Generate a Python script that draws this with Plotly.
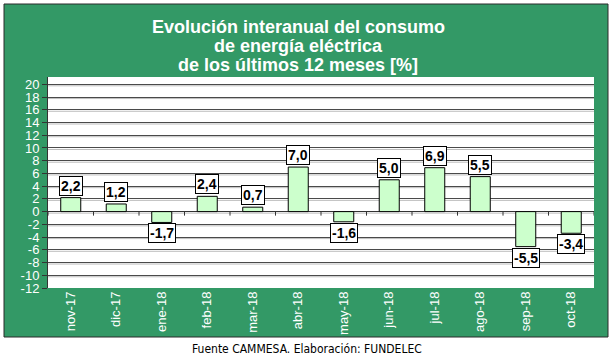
import plotly.graph_objects as go

categories = ["nov-17", "dic-17", "ene-18", "feb-18", "mar-18", "abr-18",
              "may-18", "jun-18", "jul-18", "ago-18", "sep-18", "oct-18"]
values = [2.2, 1.2, -1.7, 2.4, 0.7, 7.0, -1.6, 5.0, 6.9, 5.5, -5.5, -3.4]
y_ticks = list(range(-12, 21, 2))
title_lines = ["Evolución interanual del consumo",
               "de energía eléctrica",
               "de los últimos 12 meses [%]"]
footer = "Fuente CAMMESA. Elaboración: FUNDELEC"

W, H = 613, 361
L, R, T, B = 48, 594, 77, 288


def px(x):
    return (x - L) / (R - L)


def py(y):
    return (B - y) / (B - T)


FONT = "Liberation Sans, Arial, sans-serif"

fig = go.Figure(go.Bar(
    x=categories, y=values, width=0.44,
    marker=dict(color="#ccffcc", line=dict(color="black", width=1)),
    hoverinfo="x+y",
))

shapes = [
    dict(type="rect", xref="paper", yref="paper",
         x0=px(4), x1=px(608), y0=py(337), y1=py(4),
         fillcolor="#339966", line=dict(color="#2b2b2b", width=1), layer="below"),
    dict(type="rect", xref="paper", yref="paper", x0=0, x1=1, y0=0, y1=1,
         fillcolor="white", line=dict(width=0), layer="below"),
]
for t in y_ticks:
    shapes.append(dict(type="line", xref="paper", yref="y", x0=0, x1=1,
                       ysizemode="pixel", yanchor=t, y0=-1.5, y1=-1.5,
                       line=dict(color="#bdbdbd", width=1), layer="below"))
for i in range(len(categories) + 1):
    shapes.append(dict(type="line", xref="x", yref="y", x0=i - 0.5, x1=i - 0.5,
                       ysizemode="pixel", yanchor=0, y0=0, y1=-4,
                       line=dict(color="#333333", width=1), layer="above"))

annotations = []
for c, v in zip(categories, values):
    annotations.append(dict(
        x=c, y=v, xref="x", yref="y", showarrow=False,
        text="<b>" + f"{v:.1f}".replace(".", ",") + "</b>",
        yanchor="bottom" if v >= 0 else "top",
        yshift=2 if v >= 0 else -1,
        bgcolor="white", bordercolor="black", borderwidth=1, borderpad=1,
        font=dict(family=FONT, size=14, color="black"),
    ))
for k, line in enumerate(title_lines):
    annotations.append(dict(
        x=px(298), y=py(26.6 + 19 * k), xref="paper", yref="paper",
        xanchor="center", yanchor="middle", showarrow=False,
        text="<b>" + line + "</b>",
        font=dict(family=FONT, size=18, color="white"),
    ))
annotations.append(dict(
    x=px(307), y=py(349), xref="paper", yref="paper",
    xanchor="center", yanchor="middle", showarrow=False, text=footer,
    font=dict(family="DejaVu Sans Condensed, DejaVu Sans, sans-serif", size=12, color="black"),
))

fig.update_layout(
    width=W, height=H,
    margin=dict(l=L, r=W - R, t=T, b=H - B, pad=0),
    paper_bgcolor="white", plot_bgcolor="rgba(0,0,0,0)",
    showlegend=False,
    shapes=shapes, annotations=annotations,
    xaxis=dict(type="category", range=[-0.5, len(categories) - 0.5],
               tickangle=-90, tickfont=dict(family=FONT, size=13, color="white"),
               ticks="", showline=False, showgrid=False, zeroline=False),
    yaxis=dict(range=[-12, 21.15], tickvals=y_ticks, ticktext=[str(t) for t in y_ticks],
               tickfont=dict(family=FONT, size=13, color="white"),
               ticks="outside", ticklen=5, tickcolor="#333333",
               showline=True, linecolor="#333333", linewidth=1,
               showgrid=True, gridcolor="#4a4a4a", gridwidth=1,
               zeroline=True, zerolinecolor="#333333", zerolinewidth=1),
)

fig.write_html("out.html", config={"displayModeBar": False},
               post_script="document.body.style.margin='0';document.body.style.padding='0';")
